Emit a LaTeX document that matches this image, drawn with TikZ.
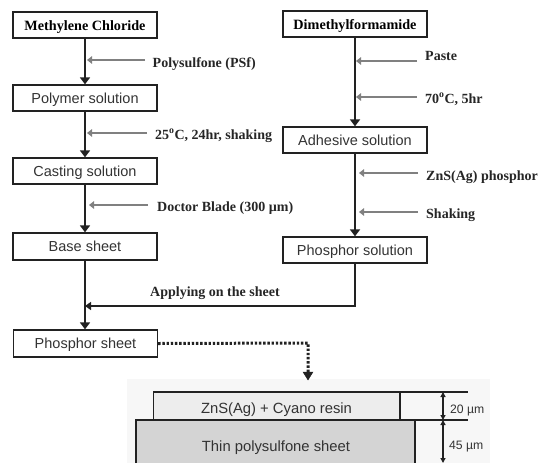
\documentclass[tikz,border=0pt]{standalone}
\usepackage{fontspec}
\setmainfont{Liberation Serif}
\setsansfont{Liberation Sans}
\usetikzlibrary{arrows.meta}
\definecolor{ink}{HTML}{222222}
\definecolor{feed}{HTML}{808080}
\tikzset{
  x=1pt,y=-1pt,
  stepbox/.style={draw=ink,line width=1.3pt,minimum width=144pt,minimum height=26pt,inner sep=0pt,text height=13pt,text depth=3pt,font=\sffamily\fontsize{14.5}{16}\selectfont,text=black!80},
  headbox/.style={stepbox,font=\bfseries\fontsize{14.2}{16}\selectfont,text=black},
  flow/.style={draw=ink,line width=2.5pt,-{Triangle[length=7pt,width=10pt]}},
  feedarrow/.style={draw=feed,line width=1.5pt,-{Triangle[length=5pt,width=7.5pt]}},
  note/.style={anchor=west,inner sep=0pt,text height=10pt,text depth=3pt,font=\bfseries\fontsize{14}{16}\selectfont,text=black!85},
  layerlabel/.style={inner sep=0pt,font=\sffamily\fontsize{14.8}{17}\selectfont,text=black!80},
  dimlabel/.style={inner sep=0pt,font=\sffamily\fontsize{12.2}{14}\selectfont,text=black!80},
  dim/.style={draw=ink,line width=1.2pt,{Triangle[length=5pt,width=5pt]}-{Triangle[length=5pt,width=5pt]}},
  rule/.style={draw=ink,line width=1.2pt}
}
\begin{document}
\begin{tikzpicture}
\useasboundingbox (0,0) rectangle (545,463);
% lower panel
\fill[black!3] (127,379) rectangle (490,463);
\fill[black!7] (153.5,392) rectangle (400,420);
\fill[black!17] (136,420) rectangle (415,463);
\draw[rule,line width=1.5pt] (153.5,420) -- (153.5,392) -- (400,392) -- (400,420);
\draw[rule,line width=1.5pt] (136,463) -- (136,420) -- (415,420) -- (415,463);
\draw[rule] (400,392) -- (468,392);
\draw[rule] (415,420) -- (468,420);
\coordinate (d1) at (443,392);
\coordinate (d2) at (443,420);
\coordinate (d3) at (443,463);
\draw[dim] (d1) -- (d2);
\draw[dim] (d2) -- (d3);
\node[layerlabel] (lay1) at (276.5,409.5) {ZnS(Ag) + Cyano resin};
\node[layerlabel] (lay2) at (276,447.5) {Thin polysulfone sheet};
\node[dimlabel,anchor=west] (dim1) at (450,410) {20 µm};
\node[dimlabel,anchor=west] (dim2) at (449,447) {45 µm};
% left column
\node[headbox] (mc) at (85,25) {Methylene Chloride};
\node[stepbox] (ps) at (85,98) {Polymer solution};
\node[stepbox] (cs) at (85,171) {Casting solution};
\node[stepbox,minimum height=27pt] (bs) at (85,246.5) {Base sheet};
\node[stepbox,minimum height=27pt] (phs) at (85.5,343.5) {Phosphor sheet};
% right column
\node[headbox] (dm) at (355,24) {Dimethylformamide};
\node[stepbox] (as) at (355,140) {Adhesive solution};
\node[stepbox] (pso) at (355,250) {Phosphor solution};
\draw[flow] (mc) -- (ps);
\draw[flow] (ps) -- (cs);
\draw[flow] (cs) -- (bs);
\coordinate (join) at (85,306);
\draw[flow] (bs.south -| join) -- (phs.north -| join);
\draw[flow] (dm) -- (as);
\draw[flow] (as) -- (pso);
\draw[flow,-{Triangle[length=6pt,width=8pt]}] (pso) |- (join);
% notes
\node[note] (n1) at (152.5,63.5) {Polysulfone (PSf)};
\coordinate (t1) at (87,60);
\draw[feedarrow] (145,60) -- (t1);
\node[note] (n2) at (155,135.5) {25\textsuperscript{o}C, 24hr, shaking};
\coordinate (t2) at (87,133);
\draw[feedarrow] (147,133) -- (t2);
\node[note] (n3) at (157,208) {Doctor Blade (300 µm)};
\coordinate (t3) at (89,205);
\draw[feedarrow] (148,205) -- (t3);
\node[note] (n4) at (425,56.5) {Paste};
\coordinate (t4) at (356,61);
\draw[feedarrow] (417,61) -- (t4);
\node[note] (n5) at (425,99.5) {70\textsuperscript{o}C, 5hr};
\coordinate (t5) at (356,97);
\draw[feedarrow] (417,97) -- (t5);
\node[note] (n6) at (426,176.5) {ZnS(Ag) phosphor};
\coordinate (t6) at (359,173);
\draw[feedarrow] (418,173) -- (t6);
\node[note] (n7) at (426,214.5) {Shaking};
\coordinate (t7) at (359,212);
\draw[feedarrow] (418,212) -- (t7);
\node[note] (n8) at (150,293) {Applying on the sheet};
% dotted link
\coordinate (corner) at (308,343);
\coordinate (dot) at (308,380);
\draw[ink,line width=3pt,dash pattern=on 2.4pt off 1.8pt] (phs.east) -- (corner) -- (308,372);
\draw[ink,fill=ink] (303,372) -- (313,372) -- (dot) -- cycle;
\end{tikzpicture}
\end{document}
